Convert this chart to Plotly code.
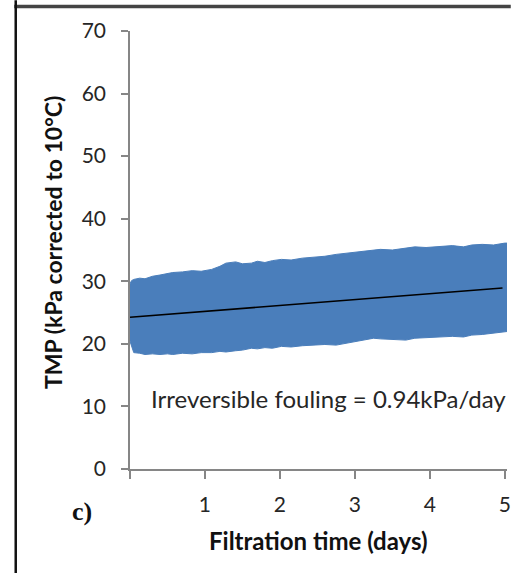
import plotly.graph_objects as go

# Envelope of the TMP band (kPa corrected to 10°C) vs filtration time (days)
band_x = [0.0, 0.02, 0.05, 0.13, 0.2, 0.3, 0.4, 0.5, 0.57, 0.7, 0.83, 0.95, 1.09, 1.2, 1.28,
          1.41, 1.5, 1.62, 1.7, 1.8, 1.9, 2.02, 2.15, 2.3, 2.47, 2.6, 2.75, 2.9, 3.0, 3.15,
          3.25, 3.34, 3.5, 3.68, 3.8, 3.95, 4.13, 4.3, 4.45, 4.56, 4.7, 4.85, 5.0, 5.05]
band_upper = [29.6, 30.1, 30.3, 30.5, 30.4, 30.8, 31.0, 31.2, 31.4, 31.5, 31.7, 31.6, 31.9, 32.4, 32.9,
              33.1, 32.8, 32.9, 33.2, 33.0, 33.3, 33.5, 33.4, 33.7, 33.9, 34.0, 34.3, 34.5, 34.7, 34.8,
              35.0, 35.1, 35.0, 35.3, 35.5, 35.4, 35.6, 35.7, 35.5, 35.8, 35.9, 35.8, 36.1, 36.1]
band_lower = [20.4, 19.6, 18.6, 18.5, 18.3, 18.4, 18.3, 18.4, 18.3, 18.5, 18.4, 18.6, 18.6, 18.8, 18.7,
              18.9, 19.0, 19.3, 19.2, 19.4, 19.3, 19.6, 19.5, 19.7, 19.8, 19.9, 19.8, 20.1, 20.3, 20.6,
              20.9, 20.8, 20.7, 20.6, 20.9, 21.0, 21.1, 21.2, 21.1, 21.4, 21.5, 21.7, 21.9, 22.0]

# Linear trend (irreversible fouling)
trend_x = [0.0, 4.97]
trend_y = [24.25, 28.92]

x_ticks = [0, 1, 2, 3, 4, 5]
x_tick_labels = ["", "1", "2", "3", "4", "5"]
y_ticks = [0, 10, 20, 30, 40, 50, 60, 70]

BLUE = "#4A7EBB"
AXIS = "#868686"
TXT = "#262626"

fig = go.Figure()
fig.add_trace(go.Scatter(x=band_x, y=band_lower, mode="lines",
                         line=dict(color=BLUE, width=1), showlegend=False, hoverinfo="skip"))
fig.add_trace(go.Scatter(x=band_x, y=band_upper, mode="lines", fill="tonexty",
                         fillcolor=BLUE, line=dict(color=BLUE, width=1),
                         showlegend=False, hoverinfo="skip"))
fig.add_trace(go.Scatter(x=trend_x, y=trend_y, mode="lines",
                         line=dict(color="black", width=1.6), showlegend=False))

fig.update_layout(
    width=511, height=573, autosize=False,
    margin=dict(l=130, r=0, t=31, b=104, pad=0),
    plot_bgcolor="white", paper_bgcolor="white",
    font=dict(family="Lato", color=TXT),
    xaxis=dict(range=[0, 5.03], tickvals=x_ticks, ticktext=x_tick_labels,
               showgrid=False, zeroline=False, showline=True, linecolor=AXIS, linewidth=1.5,
               ticks="outside", ticklen=8, tickcolor=AXIS, tickwidth=1.5,
               tickfont=dict(family="Lato", size=21, color=TXT), ticklabelstandoff=8,
               ticklabeloverflow="allow"),
    yaxis=dict(range=[0, 70], tickvals=y_ticks,
               showgrid=False, zeroline=False, showline=True, linecolor=AXIS, linewidth=1.5,
               ticks="outside", ticklen=7, tickcolor=AXIS, tickwidth=1.5,
               tickfont=dict(family="Lato", size=21, color=TXT), ticklabelstandoff=11),
    annotations=[
        dict(text="Irreversible fouling = 0.94kPa/day", x=0.26, y=11.2, xref="x", yref="y",
             xanchor="left", yanchor="middle", showarrow=False,
             font=dict(family="Lato", size=24, color=TXT)),
        dict(text="<b>TMP (kPa corrected to 10°C)</b>", x=-0.2047, y=0.518, xref="paper", yref="paper",
             textangle=-90, xanchor="center", yanchor="middle", showarrow=False,
             font=dict(family="Lato", size=23, color="#111111")),
        dict(text="<b>Filtration time (days)</b>", x=0.5, y=-0.164, xref="paper", yref="paper",
             xanchor="center", yanchor="middle", showarrow=False,
             font=dict(family="Lato", size=24, color="#111111")),
        dict(text="<b>c)</b>", x=-0.126, y=-0.098, xref="paper", yref="paper",
             xanchor="center", yanchor="middle", showarrow=False,
             font=dict(family="Liberation Serif", size=26, color="#111111")),
    ],
    shapes=[
        dict(type="line", xref="paper", yref="paper", x0=-0.307, x1=1.01, y0=1.0559, y1=1.0559,
             line=dict(color="#444444", width=3.5)),
        dict(type="line", xref="paper", yref="paper", x0=-0.3031, x1=-0.3031, y0=-0.26, y1=1.07,
             line=dict(color="#111111", width=2.5)),
    ],
)

fig.write_html("out.html")
